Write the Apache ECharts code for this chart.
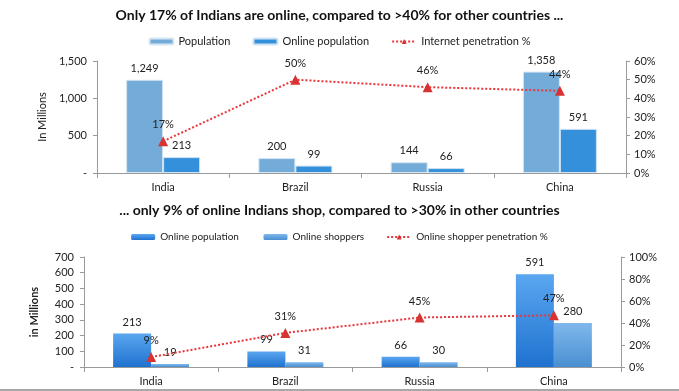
<!DOCTYPE html>
<html>
<head>
<meta charset="utf-8">
<script src="https://cdn.jsdelivr.net/npm/echarts@6/dist/echarts.min.js"></script>
<style>
html,body{margin:0;padding:0;background:#fff;}
#c{width:679px;height:391px;}
</style>
</head>
<body>
<div id="c"></div>
<script>
const categories = ['India', 'Brazil', 'Russia', 'China'];
const population = [1249, 200, 144, 1358];
const onlinePopulation = [213, 99, 66, 591];
const internetPenetration = [17, 50, 46, 44];
const onlineShoppers = [19, 31, 30, 280];
const shopperPenetration = [9, 31, 45, 47];
const topLeftTicks = [0, 500, 1000, 1500];
const topRightTicks = [0, 10, 20, 30, 40, 50, 60];
const botLeftTicks = [0, 100, 200, 300, 400, 500, 600, 700];
const botRightTicks = [0, 20, 40, 60, 80, 100];

const FONT = 'Lato';
const txt = '#222';
const axisCol = '#9a9a9a';
const redCol = '#e8363a';

function fmtNum(v) { return v === 0 ? '-' : v.toLocaleString('en-US'); }

const chart = echarts.init(document.getElementById('c'));

function xAx(gi) {
  return {
    type: 'category', gridIndex: gi, data: categories,
    axisLine: { lineStyle: { color: axisCol } },
    axisTick: { show: true, length: 5, lineStyle: { color: axisCol } },
    axisLabel: { color: txt, fontFamily: FONT, fontSize: 11, margin: 9 }
  };
}
function yAx(gi, ticks, left, name, bold) {
  const o = {
    type: 'value', gridIndex: gi, min: ticks[0], max: ticks[ticks.length - 1],
    interval: ticks[1] - ticks[0],
    position: left ? 'left' : 'right',
    splitLine: { show: false },
    axisLine: { show: true, lineStyle: { color: axisCol } },
    axisTick: { show: true, length: 4, lineStyle: { color: axisCol } },
    axisLabel: {
      color: txt, fontFamily: FONT, fontSize: 11, margin: left ? 10 : 8,
      formatter: left ? fmtNum : (v => v + '%')
    }
  };
  if (name) {
    o.name = name;
    o.nameLocation = 'middle';
    o.nameGap = left ? 44 : 30;
    o.nameTextStyle = { color: txt, fontFamily: FONT, fontSize: 11, fontWeight: bold ? 'bold' : 'normal' };
  }
  return o;
}
function grad(top, bottom) {
  return { type: 'linear', x: 0, y: 0, x2: 0, y2: 1, colorStops: [{ offset: 0, color: top }, { offset: 1, color: bottom }] };
}
const barLabel = { show: true, position: 'top', color: txt, fontFamily: FONT, fontSize: 11, distance: 6,
  formatter: p => p.value.toLocaleString('en-US') };
const lineLabel = { show: true, position: 'top', distance: 6, color: txt, fontFamily: FONT, fontSize: 11, formatter: p => p.value + '%' };

chart.setOption({
  animation: false,
  title: [
    { text: 'Only 17% of Indians are online, compared to >40% for other countries ...', left: 'center', top: 3,
      textStyle: { fontFamily: FONT, fontSize: 14, fontWeight: 'bold', color: '#111' } },
    { text: '... only 9% of online Indians shop, compared to >30% in other countries', left: 'center', top: 198,
      textStyle: { fontFamily: FONT, fontSize: 14, fontWeight: 'bold', color: '#111' } }
  ],
  legend: [
    { top: 31, left: 'center', itemWidth: 24, itemHeight: 6, itemGap: 22,
      textStyle: { fontFamily: FONT, fontSize: 11, color: txt },
      data: ['Population', 'Online population', 'Internet penetration %'] },
    { top: 227, left: 'center', itemWidth: 24, itemHeight: 6, itemGap: 22,
      textStyle: { fontFamily: FONT, fontSize: 10, color: txt },
      data: ['Online population ', 'Online shoppers', 'Online shopper penetration %'] }
  ],
  grid: [
    { left: 97, right: 53, top: 61, bottom: 218 },
    { left: 84, right: 58, top: 257, bottom: 24 }
  ],
  xAxis: [xAx(0), xAx(1)],
  yAxis: [
    yAx(0, topLeftTicks, true, 'In Millions', false),
    yAx(0, topRightTicks, false),
    yAx(1, botLeftTicks, true, 'in Millions', true),
    yAx(1, botRightTicks, false)
  ],
  series: [
    { name: 'Population', type: 'bar', xAxisIndex: 0, yAxisIndex: 0, data: population,
      barWidth: 37, barGap: '0%',
      itemStyle: { color: '#74acd9', borderColor: '#d6e6f3', borderWidth: 1 }, label: barLabel },
    { name: 'Online population', type: 'bar', xAxisIndex: 0, yAxisIndex: 0, data: onlinePopulation,
      barWidth: 37, barGap: '0%',
      itemStyle: { color: '#3590db', borderColor: '#cfe2f3', borderWidth: 1 }, label: barLabel },
    { name: 'Internet penetration %', type: 'line', xAxisIndex: 0, yAxisIndex: 1, data: internetPenetration,
      symbol: 'triangle', symbolSize: 10,
      lineStyle: { color: redCol, width: 2, type: [2, 2] },
      itemStyle: { color: '#d83232' }, label: lineLabel },
    { name: 'Online population ', type: 'bar', xAxisIndex: 1, yAxisIndex: 2, data: onlinePopulation,
      barWidth: 38, barGap: '0%',
      itemStyle: { color: grad('#5aa6f0', '#1f72cf') }, label: barLabel },
    { name: 'Online shoppers', type: 'bar', xAxisIndex: 1, yAxisIndex: 2, data: onlineShoppers,
      barWidth: 38, barGap: '0%',
      itemStyle: { color: grad('#7fb8ec', '#4a8fd2') }, label: barLabel },
    { name: 'Online shopper penetration %', type: 'line', xAxisIndex: 1, yAxisIndex: 3, data: shopperPenetration,
      symbol: 'triangle', symbolSize: 10,
      lineStyle: { color: redCol, width: 2, type: [2, 2] },
      itemStyle: { color: '#d83232' }, label: lineLabel }
  ],
  graphic: [
    { type: 'rect', left: 0, top: 389, shape: { width: 679, height: 2 }, style: { fill: '#a8a8a8' } }
  ]
});
</script>
</body>
</html>
